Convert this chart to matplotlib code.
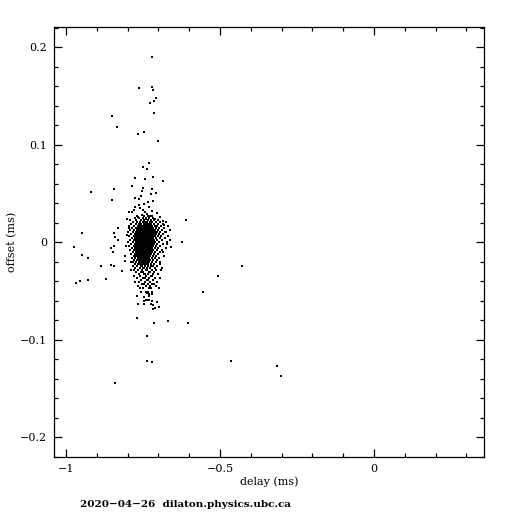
import matplotlib
matplotlib.use("Agg")
import matplotlib.pyplot as plt
from matplotlib.ticker import MultipleLocator, FuncFormatter

# scattered points, read one by one (ms)
delay = [-0.720, -0.762, -0.720, -0.717, -0.707, -0.713, -0.726, -0.713, -0.850, -0.833,
         -0.765, -0.746, -0.700, -0.730, -0.749, -0.736, -0.775, -0.743, -0.717, -0.684,
         -0.785, -0.843, -0.749, -0.720, -0.752, -0.707, -0.723, -0.758, -0.775, -0.762,
         -0.918, -0.850, -0.794, -0.778, -0.830, -0.947, -0.843, -0.840, -0.830, -0.973,
         -0.853, -0.843, -0.846, -0.947, -0.928, -0.807, -0.810, -0.885, -0.853, -0.843,
         -0.817, -0.869, -0.928, -0.954, -0.967, -0.840, -0.609, -0.662, -0.624, -0.658,
         -0.430, -0.507, -0.554, -0.603, -0.463, -0.314, -0.301,
         -0.756, -0.739, -0.736, -0.733, -0.720, -0.730, -0.720, -0.769, -0.746, -0.730,
         -0.739, -0.736, -0.730, -0.746, -0.720, -0.704, -0.765, -0.746, -0.723, -0.717,
         -0.697, -0.710, -0.717, -0.771, -0.713, -0.668, -0.736, -0.736, -0.720,
         -0.734, -0.747, -0.718, -0.776, -0.760, -0.731, -0.786, -0.744, -0.737, -0.721,
         -0.705, -0.695, -0.753, -0.766, -0.776, -0.727, -0.711, -0.792, -0.685, -0.740,
         -0.750, -0.763,
         -0.802, -0.805, -0.789, -0.695, -0.685, -0.679, -0.672, -0.795, -0.688, -0.789,
         -0.682, -0.802]
offset = [0.1894, 0.1576, 0.1587, 0.1556, 0.1474, 0.1443, 0.1423, 0.1320, 0.1289, 0.1176,
          0.1105, 0.1125, 0.1033, 0.0807, 0.0766, 0.0746, 0.0656, 0.0643, 0.0664, 0.0623,
          0.0574, 0.0541, 0.0551, 0.0541, 0.0520, 0.0499, 0.0489, 0.0469, 0.0448, 0.0438,
          0.0510, 0.0428, 0.0305, 0.0325, 0.0141, 0.0089, 0.0089, 0.0048, 0.0017, -0.0054,
          -0.0065, -0.0044, -0.0106, -0.0136, -0.0167, -0.0147, -0.0198, -0.0249, -0.0239, -0.0249,
          -0.0294, -0.0383, -0.0393, -0.0403, -0.0424, -0.1449, 0.0223, 0.0021, -0.0003, -0.0054,
          -0.0249, -0.0352, -0.0516, -0.0834, -0.1224, -0.1275, -0.1377,
          -0.0516, -0.0516, -0.0526, -0.0516, -0.0516, -0.0536, -0.0536, -0.0557, -0.0567, -0.0557,
          -0.0598, -0.0598, -0.0598, -0.0608, -0.0608, -0.0618, -0.0639, -0.0639, -0.0639, -0.0649,
          -0.0670, -0.0680, -0.0690, -0.0783, -0.0834, -0.0813, -0.0967, -0.1224, -0.1234,
          0.0410, 0.0390, 0.0421, 0.0359, 0.0349, 0.0359, 0.0308, 0.0308, 0.0287, 0.0318,
          0.0297, 0.0256, 0.0277, 0.0256, 0.0246, 0.0267, 0.0236, 0.0226, 0.0215, 0.0236,
          0.0328, 0.0380,
          0.0072, -0.0041, -0.0205, -0.0205, -0.0103, 0.0103, -0.0021, 0.0144, -0.0267, -0.0287,
          0.0174, 0.0236]

# dense core, read row by row: one offset per row and the delays seen in it
row_offset = [0.0267, 0.0246, 0.0226,
              0.0205, 0.0185, 0.0164, 0.0144, 0.0123, 0.0103, 0.0082, 0.0062, 0.0041, 0.0021,
              0.0, -0.0021, -0.0041, -0.0062, -0.0082, -0.0103, -0.0123, -0.0144, -0.0164, -0.0185,
              -0.0205, -0.0226, -0.0246, -0.0267, -0.0287, -0.0308, -0.0328, -0.0349, -0.0369, -0.0390,
              -0.0410, -0.0431, -0.0451, -0.0472]
row_delays = [
    [-0.769, -0.747, -0.734, -0.721],
    [-0.763, -0.750, -0.740, -0.731, -0.718],
    [-0.773, -0.756, -0.747, -0.734, -0.724, -0.714, -0.701],
    [-0.782, -0.769, -0.760, -0.750, -0.744, -0.737, -0.727, -0.721, -0.708, -0.695, -0.675],
    [-0.789, -0.773, -0.763, -0.756, -0.747, -0.740, -0.734, -0.731, -0.724, -0.714, -0.701, -0.685],
    [-0.795, -0.779, -0.766, -0.760, -0.753, -0.750, -0.744, -0.737, -0.731, -0.727, -0.721, -0.711,
     -0.705, -0.692, -0.669],
    [-0.786, -0.773, -0.766, -0.763, -0.756, -0.750, -0.747, -0.740, -0.734, -0.731, -0.724, -0.718,
     -0.708, -0.698, -0.682],
    [-0.792, -0.779, -0.769, -0.763, -0.760, -0.756, -0.753, -0.747, -0.744, -0.737, -0.734, -0.727,
     -0.724, -0.718, -0.711, -0.701, -0.688, -0.662],
    [-0.799, -0.782, -0.773, -0.766, -0.763, -0.760, -0.753, -0.750, -0.747, -0.740, -0.737, -0.734,
     -0.731, -0.727, -0.721, -0.718, -0.711, -0.705, -0.695, -0.675],
    [-0.789, -0.776, -0.769, -0.766, -0.760, -0.756, -0.753, -0.750, -0.744, -0.740, -0.737, -0.734,
     -0.731, -0.727, -0.724, -0.721, -0.714, -0.708, -0.698, -0.685],
    [-0.795, -0.779, -0.773, -0.766, -0.763, -0.760, -0.756, -0.753, -0.750, -0.747, -0.744, -0.740,
     -0.737, -0.734, -0.731, -0.727, -0.724, -0.718, -0.711, -0.701, -0.692, -0.669],
    [-0.786, -0.776, -0.769, -0.766, -0.763, -0.760, -0.756, -0.753, -0.750, -0.747, -0.744, -0.740,
     -0.737, -0.734, -0.731, -0.727, -0.721, -0.718, -0.708, -0.695, -0.679],
    [-0.792, -0.779, -0.773, -0.769, -0.763, -0.760, -0.756, -0.753, -0.750, -0.747, -0.744, -0.740,
     -0.737, -0.734, -0.731, -0.727, -0.724, -0.721, -0.714, -0.705, -0.688],
    [-0.799, -0.782, -0.773, -0.766, -0.763, -0.760, -0.756, -0.753, -0.750, -0.747, -0.744, -0.740,
     -0.737, -0.734, -0.731, -0.727, -0.724, -0.718, -0.711, -0.698, -0.672],
    [-0.789, -0.776, -0.769, -0.766, -0.763, -0.760, -0.756, -0.753, -0.750, -0.747, -0.744, -0.740,
     -0.737, -0.734, -0.731, -0.727, -0.721, -0.714, -0.705, -0.685],
    [-0.795, -0.779, -0.773, -0.766, -0.763, -0.760, -0.756, -0.753, -0.750, -0.747, -0.744, -0.740,
     -0.737, -0.734, -0.731, -0.727, -0.724, -0.718, -0.708, -0.695],
    [-0.786, -0.776, -0.769, -0.763, -0.760, -0.756, -0.753, -0.750, -0.747, -0.744, -0.740, -0.737,
     -0.734, -0.731, -0.727, -0.721, -0.711, -0.701, -0.675],
    [-0.792, -0.779, -0.773, -0.766, -0.763, -0.760, -0.756, -0.753, -0.750, -0.747, -0.744, -0.740,
     -0.737, -0.734, -0.731, -0.724, -0.718, -0.705, -0.688],
    [-0.782, -0.773, -0.766, -0.763, -0.756, -0.753, -0.750, -0.747, -0.744, -0.740, -0.737, -0.734,
     -0.727, -0.721, -0.711, -0.695],
    [-0.789, -0.776, -0.769, -0.763, -0.760, -0.753, -0.750, -0.747, -0.744, -0.740, -0.737, -0.731,
     -0.724, -0.714, -0.701],
    [-0.779, -0.773, -0.766, -0.760, -0.756, -0.750, -0.747, -0.744, -0.740, -0.734, -0.727, -0.718,
     -0.708, -0.682],
    [-0.786, -0.776, -0.766, -0.760, -0.753, -0.750, -0.744, -0.740, -0.737, -0.731, -0.721, -0.711, -0.698],
    [-0.779, -0.769, -0.763, -0.756, -0.750, -0.747, -0.740, -0.734, -0.727, -0.718, -0.705],
    [-0.782, -0.773, -0.763, -0.756, -0.750, -0.744, -0.737, -0.731, -0.721, -0.708],
    [-0.776, -0.766, -0.760, -0.753, -0.747, -0.740, -0.734, -0.724, -0.714, -0.695],
    [-0.782, -0.769, -0.756, -0.753, -0.744, -0.734, -0.724, -0.718, -0.705],
    [-0.776, -0.760, -0.750, -0.747, -0.737, -0.727, -0.711],
    [-0.779, -0.766, -0.753, -0.740, -0.737, -0.721, -0.708, -0.692],
    [-0.773, -0.756, -0.750, -0.731, -0.727, -0.714],
    [-0.763, -0.747, -0.744, -0.734, -0.718, -0.701],
    [-0.779, -0.760, -0.740, -0.724, -0.721],
    [-0.769, -0.750, -0.744, -0.731, -0.711, -0.695],
    [-0.756, -0.737, -0.734, -0.718],
    [-0.776, -0.763, -0.744, -0.727, -0.705],
    [-0.753, -0.747, -0.734, -0.721, -0.714],
    [-0.766, -0.740, -0.727, -0.708],
    [-0.760, -0.750, -0.731, -0.724, -0.698],
]

core_delay = [d for ds in row_delays for d in ds]
core_offset = [o for o, ds in zip(row_offset, row_delays) for _ in ds]

plt.rcParams["font.family"] = "DejaVu Serif"

fig = plt.figure(figsize=(5.12, 5.12), dpi=100)
ax = fig.add_axes([0.1055, 0.1074, 0.8398, 0.8398])
ax.scatter(delay + core_delay, offset + core_offset, s=0.9, marker="s", c="black", linewidths=0)

ax.set_xlim(-1.039, 0.357)
ax.set_ylim(-0.2205, 0.2205)
ax.xaxis.set_major_locator(MultipleLocator(0.5))
ax.xaxis.set_minor_locator(MultipleLocator(0.1))
ax.yaxis.set_major_locator(MultipleLocator(0.1))
ax.yaxis.set_minor_locator(MultipleLocator(0.02))
fmt = FuncFormatter(lambda v, p: f"{round(v, 3):g}".replace("-", "\u2212") if abs(v) > 1e-9 else "0")
ax.xaxis.set_major_formatter(fmt)
ax.yaxis.set_major_formatter(fmt)
ax.tick_params(which="both", direction="in", top=True, right=True, width=0.9, labelsize=8, pad=5)
ax.tick_params(which="major", length=6)
ax.tick_params(which="minor", length=3)
for s in ax.spines.values():
    s.set_linewidth(0.9)

fig.text(269 / 512, 1 - 482 / 512, "delay (ms)", ha="center", va="center", fontsize=8)
fig.text(12 / 512, 0.527, "offset (ms)", ha="center", va="center", rotation=90, fontsize=8)
fig.text(80 / 512, 1 - 500 / 512, "2020\u221204\u221226  dilaton.physics.ubc.ca", ha="left", va="top",
         fontsize=7.5, fontweight="bold")

fig.savefig("out.png", dpi=100)
